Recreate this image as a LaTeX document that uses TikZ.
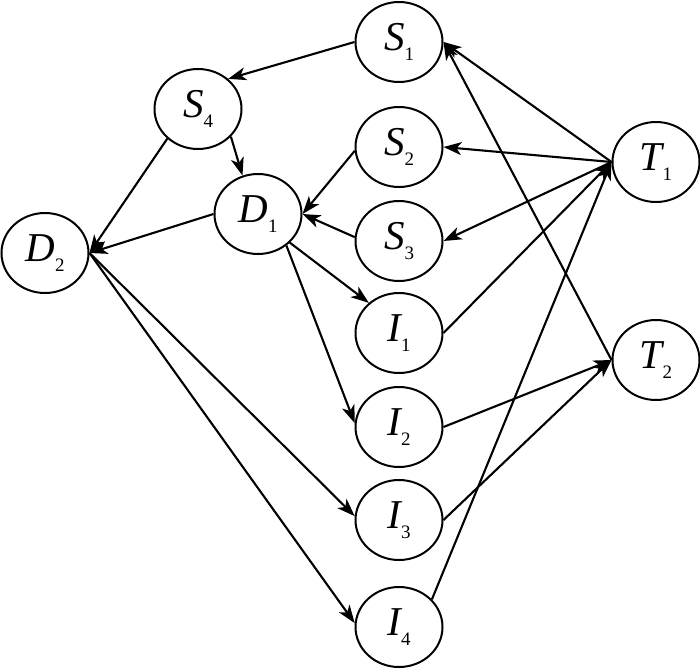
\documentclass[tikz,border=0pt]{standalone}
\usepackage{fontspec}
\setmainfont{Liberation Serif}
\usetikzlibrary{arrows.meta,shapes.geometric}
\newcommand{\nlab}[2]{{\fontsize{41}{43}\selectfont\itshape #1}\raisebox{-10pt}{\fontsize{19}{20}\selectfont #2}}
\tikzset{
  vtx/.style={ellipse, draw, line width=2pt, minimum width=87pt, minimum height=80pt, inner sep=0pt},
  arr/.style={line width=2.1pt, -{Stealth[length=18pt,width=13pt,inset=5pt]}}
}
\begin{document}
\begin{tikzpicture}[x=1pt,y=-1pt]
\useasboundingbox (0,0) rectangle (700,669);
\node[vtx] (S1) at (399,42) {\nlab{S}{1}};
\node[vtx] (S4) at (198,109) {\nlab{S}{4}};
\node[vtx] (D1) at (258,214) {\nlab{D}{1}};
\node[vtx] (D2) at (45,253) {\nlab{D}{2}};
\node[vtx] (S2) at (399,147) {\nlab{S}{2}};
\node[vtx] (S3) at (399,241) {\nlab{S}{3}};
\node[vtx] (I1) at (399,333) {\nlab{I}{1}};
\node[vtx] (I2) at (399,427) {\nlab{I}{2}};
\node[vtx] (I3) at (399,520) {\nlab{I}{3}};
\node[vtx] (I4) at (399,627) {\nlab{I}{4}};
\node[vtx] (T1) at (656,162) {\nlab{T}{1}};
\node[vtx] (T2) at (656,360) {\nlab{T}{2}};

\draw[arr] (S1.west) -- (S4.45);
\draw[arr] (S4.-40) -- (D1.112);
\draw[arr] (S4.-136) -- (D2.east);
\draw[arr] (D1.west) -- (D2.east);
\draw[arr] (S2.185) -- (D1.east);
\draw[arr] (S3.175) -- (D1.east);
\draw[arr] (D1.-42) -- (I1.135);
\draw[arr] (D1.-48) -- (I2.175);
\draw[arr] (D2.east) -- (I3.175);
\draw[arr] (D2.east) -- (I4.175);
\draw[arr] (I1.east) -- (T1.west);
\draw[arr] (I4.40) -- (T1.west);
\draw[arr] (I2.east) -- (T2.west);
\draw[arr] (I3.east) -- (T2.west);
\draw[arr] (T1.west) -- (S1.east);
\draw[arr] (T1.west) -- (S2.east);
\draw[arr] (T1.west) -- (S3.east);
\draw[arr] (T2.west) -- (S1.east);
\end{tikzpicture}
\end{document}
